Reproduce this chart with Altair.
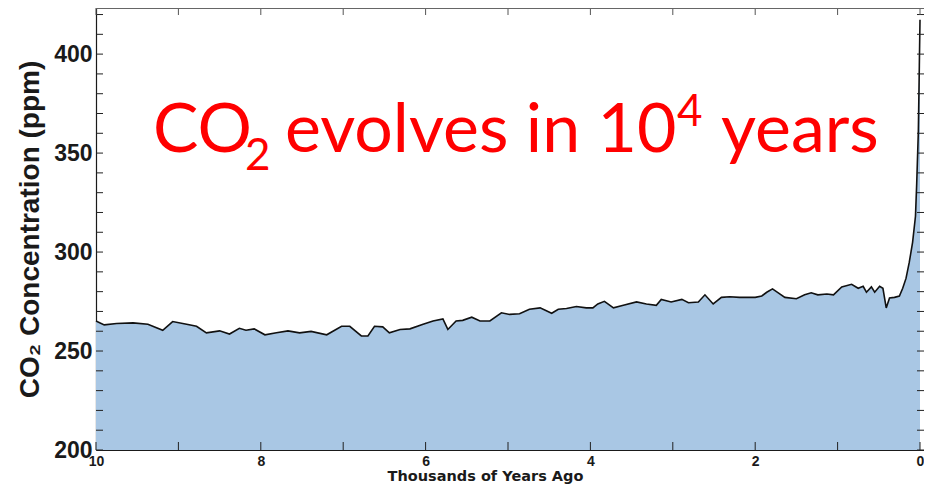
import altair as alt
import pandas as pd

# ---- data (thousands of years ago, ppm) ----
years_ago = [10, 9.90, 9.75, 9.55, 9.37, 9.19, 9.07, 8.90, 8.78, 8.66,
             8.50, 8.38, 8.26, 8.18, 8.08, 7.95, 7.81, 7.67, 7.53, 7.39,
             7.20, 7.02, 6.92, 6.78, 6.70, 6.62, 6.52, 6.44, 6.31, 6.19,
             6.03, 5.91, 5.79, 5.73, 5.63, 5.55, 5.44, 5.34, 5.22, 5.08,
             4.98, 4.86, 4.74, 4.61, 4.47, 4.39, 4.29, 4.17, 4.05, 3.97,
             3.91, 3.83, 3.72, 3.60, 3.44, 3.32, 3.20, 3.14, 3.02, 2.89,
             2.81, 2.69, 2.61, 2.51, 2.41, 2.31, 2.19, 2.00, 1.92, 1.86,
             1.79, 1.72, 1.64, 1.50, 1.40, 1.32, 1.24, 1.13, 1.05, 0.95,
             0.83, 0.75, 0.69, 0.65, 0.59, 0.55, 0.49, 0.45, 0.41, 0.37,
             0.31, 0.25, 0.21, 0.17, 0.13, 0.09, 0.055, 0.04, 0.02, 0.008,
             0.0]
co2_ppm = [265.2, 263.2, 263.9, 264.2, 263.5, 260.5, 264.9, 263.5, 262.5, 259.2,
           260.2, 258.6, 261.5, 260.5, 261.2, 258.2, 259.2, 260.2, 259.2, 259.9,
           258.2, 262.5, 262.5, 257.6, 257.6, 262.5, 262.2, 259.2, 260.9, 261.2,
           263.5, 265.2, 266.2, 260.9, 265.2, 265.5, 267.1, 265.2, 265.2, 269.3,
           268.5, 268.8, 271.1, 271.8, 269.1, 271.1, 271.5, 272.5, 271.8, 271.8,
           273.8, 275.1, 271.8, 273.1, 274.8, 273.8, 273.1, 276.1, 274.8, 276.1,
           274.4, 274.8, 278.4, 273.8, 277.1, 277.4, 277.1, 277.1, 277.8, 279.7,
           281.4, 279.4, 277.1, 276.4, 278.4, 279.4, 278.4, 278.8, 278.4, 282.4,
           283.7, 281.7, 282.7, 279.7, 282.4, 279.7, 282.7, 281.7, 271.8, 276.8,
           277.1, 277.8, 281.7, 286.7, 294.9, 304.9, 318.1, 334.6, 361.1, 394.2,
           417.4]

x_label_values = [10, 8, 6, 4, 2, 0]
x_tick_values = [10, 9, 8, 7, 6, 5, 4, 3, 2, 1, 0]
y_label_values = [200, 250, 300, 350, 400]
y_tick_values = list(range(200, 421, 10))

note_text = ["CO", "2", "evolves in 10", "4", "years"]
note_t = [9.308, 8.192, 7.706, 2.949, 2.415]
note_ppm = [350.5, 341.5, 350.5, 363.5, 350.5]
note_size = [68, 44, 68, 44, 68]

W, H = 828, 442
FONT = "Liberation Sans"
INK = "#1a1a1a"

df = pd.DataFrame({"t": years_ago, "ppm": co2_ppm})
df["base"] = 200
yticks = pd.DataFrame({"ppm": y_tick_values})
xticks = pd.DataFrame({"t": x_tick_values})
frame = pd.DataFrame({"k": [0]})
notes = pd.DataFrame({"t": note_t, "ppm": note_ppm, "txt": note_text, "sz": note_size})

xscale = alt.Scale(domain=[10, -0.0485], nice=False, zero=False)
yscale = alt.Scale(domain=[200, 423.3], nice=False, zero=False)

xaxis = alt.Axis(values=x_label_values, format="d", ticks=False, domain=True,
                 domainColor=INK, domainWidth=1.2, grid=False, labelFlush=False,
                 labelFont=FONT, labelFontWeight="bold", labelFontSize=14, labelColor=INK,
                 labelPadding=4, title="Thousands of Years Ago", titleFont="DejaVu Sans",
                 titleFontWeight="bold", titleFontSize=14.5, titleColor=INK, titlePadding=1,
                 titleX=389)
yaxis = alt.Axis(values=y_label_values, format="d", ticks=False, domain=True,
                 domainColor=INK, domainWidth=1.2, grid=False, labelFlush=False,
                 labelFont=FONT, labelFontWeight="bold", labelFontSize=23, labelColor=INK,
                 labelPadding=4, title="CO₂ Concentration (ppm)", titleFont=FONT,
                 titleFontWeight="bold", titleFontSize=28, titleColor=INK, titlePadding=9)

X = alt.X("t:Q", scale=xscale, axis=xaxis)
Y = alt.Y("ppm:Q", scale=yscale, axis=yaxis)

area = alt.Chart(df).mark_area(color="#a9c7e4", opacity=1).encode(
    x=X, y=Y, y2=alt.Y2("base:Q"))
line = alt.Chart(df).mark_line(color="#111111", strokeWidth=1.6).encode(x=X, y=Y)

left_ticks = alt.Chart(yticks).mark_rule(color="#222222", strokeWidth=1).encode(
    y=Y, x=alt.value(0), x2=alt.value(7))
right_ticks = alt.Chart(yticks).mark_rule(color="#222222", strokeWidth=1).encode(
    y=Y, x=alt.value(W - 7), x2=alt.value(W))
bottom_ticks = alt.Chart(xticks).mark_rule(color="#222222", strokeWidth=1).encode(
    x=X, y=alt.value(H - 8), y2=alt.value(H))
top_ticks = alt.Chart(xticks).mark_rule(color="#555555", strokeWidth=1).encode(
    x=X, y=alt.value(0), y2=alt.value(7))
top_line = alt.Chart(frame).mark_rule(color="#666666", strokeWidth=1).encode(
    x=alt.value(0), x2=alt.value(W), y=alt.value(0.5))

text = alt.Chart(notes).mark_text(color="#ff0000", font="Lato", align="left",
                                   baseline="alphabetic").encode(
    x=X, y=Y, text="txt:N", size=alt.Size("sz:Q", scale=None, legend=None))

chart = alt.layer(area, line, left_ticks, right_ticks, bottom_ticks, top_ticks, top_line,
                  text).properties(
    width=W, height=H,
    autosize=alt.AutoSizeParams(type="none"),
    padding={"left": 88, "top": 0, "right": 0, "bottom": 37},
).configure_view(stroke=None).configure(background="white")

chart.save("out.html", embed_options={"renderer": "svg", "actions": False})
